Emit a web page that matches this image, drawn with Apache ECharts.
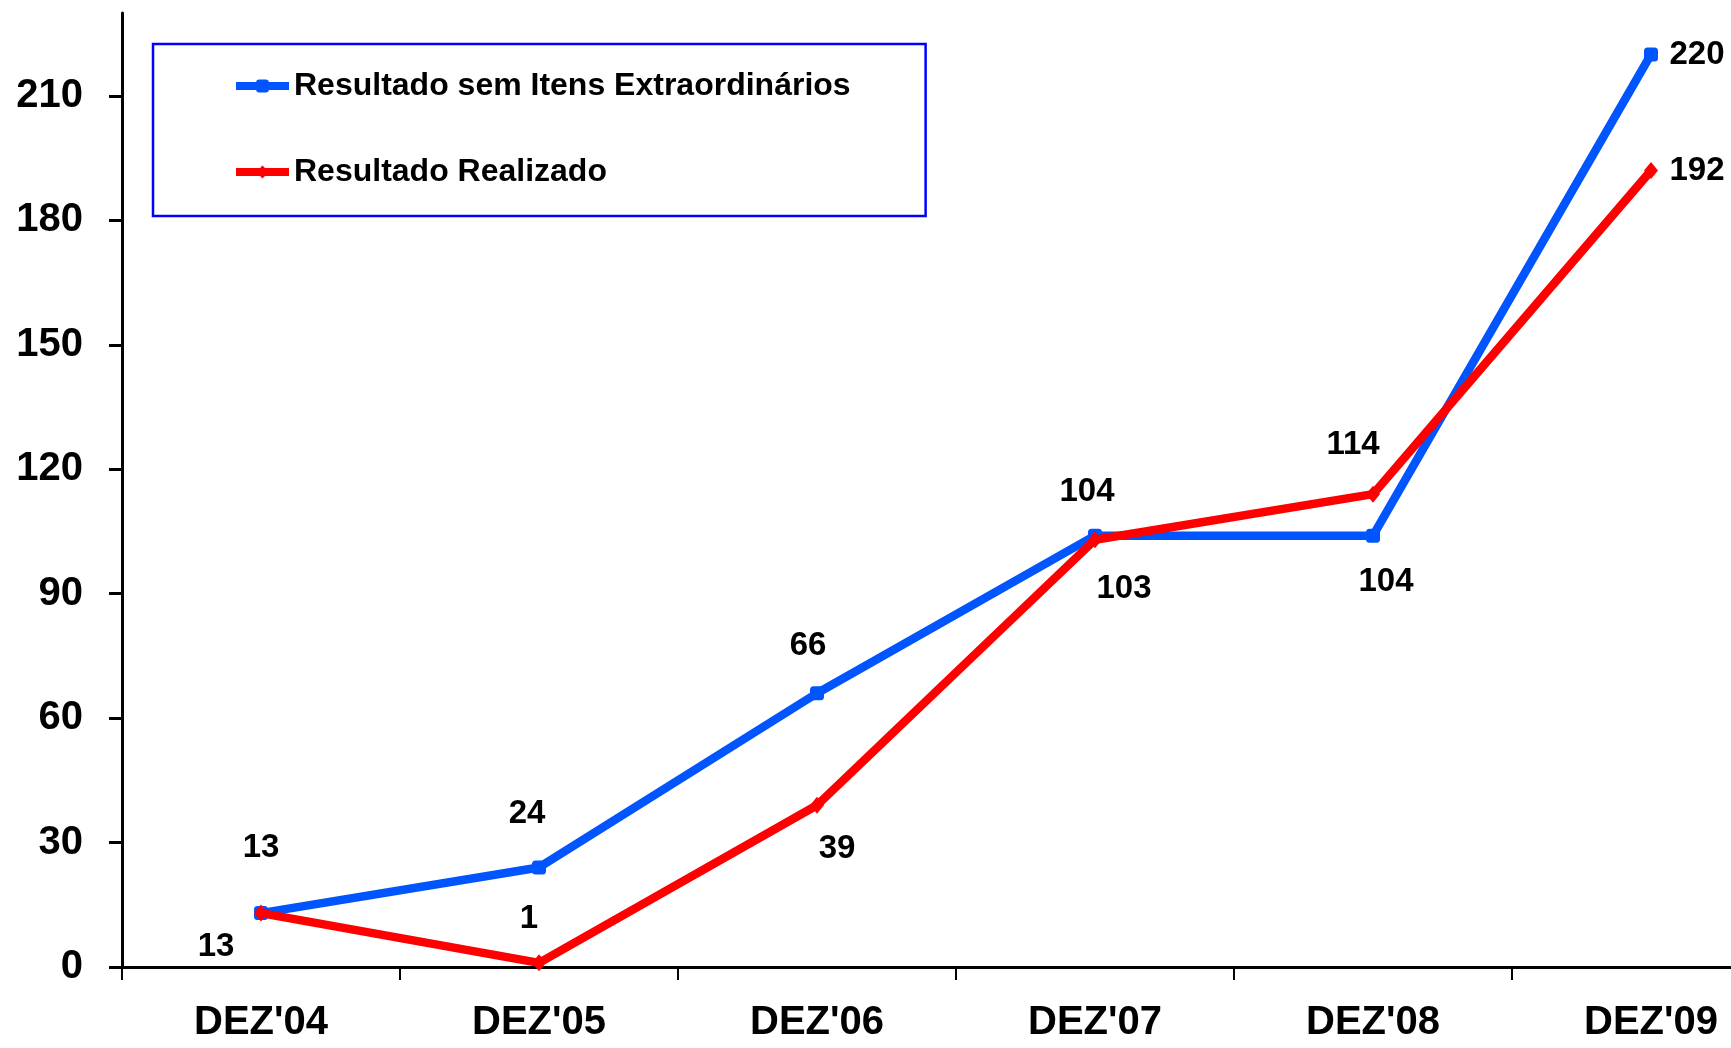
<!DOCTYPE html>
<html><head><meta charset="utf-8">
<script src="https://cdn.jsdelivr.net/npm/echarts@6/dist/echarts.min.js"></script>
<style>html,body{margin:0;padding:0;background:#fff}#c{width:1731px;height:1048px}</style>
</head><body><div id="c"></div>
<script>
const categories = ["DEZ'04", "DEZ'05", "DEZ'06", "DEZ'07", "DEZ'08", "DEZ'09"];
const seriesNames = ["Resultado sem Itens Extraordinários", "Resultado Realizado"];
const semItens = [13, 24, 66, 104, 104, 220];
const realizado = [13, 1, 39, 103, 114, 192];
const yTicks = [0, 30, 60, 90, 120, 150, 180, 210];

// label placement (style, not data)
const blueOff = [[0,-65],[-12,-54],[-9,-47],[-8,-44],[13,46],[46,0]];
const redOff = [[-45,34],[-10,-44],[20,44],[29,49],[-20,-49],[46,0]];

const SANS = "'Liberation Sans', Arial, sans-serif";

function withLabels(vals, offs) {
  return vals.map((v, i) => ({
    value: v,
    label: { position: 'inside', offset: offs[i] }
  }));
}

const chart = echarts.init(document.getElementById('c'), null, { renderer: 'canvas' });
chart.setOption({
  animation: false,
  backgroundColor: '#fff',
  grid: { left: 122, width: 1668, top: 13, bottom: 81, outerBoundsMode: 'none', containLabel: false },
  legend: {
    orient: 'vertical', left: 153, top: 44,
    padding: [26, 75, 28, 79], itemGap: 54,
    itemWidth: 53, itemHeight: 16,
    borderColor: '#0000FF', borderWidth: 2.5,
    lineStyle: { width: 8 },
    textStyle: { fontFamily: SANS, fontWeight: 'bold', fontSize: 32, color: '#000', width: 556 },
    data: seriesNames
  },
  xAxis: {
    type: 'category', data: categories, boundaryGap: true,
    axisLine: { lineStyle: { color: '#000', width: 3 } },
    axisTick: { show: true, length: 13, lineStyle: { color: '#000', width: 2 } },
    axisLabel: { margin: 36, fontFamily: SANS, fontWeight: 'bold', fontSize: 40, color: '#000' },
    splitLine: { show: false }
  },
  yAxis: {
    type: 'value', min: 0, max: 230,
    axisLine: { show: true, lineStyle: { color: '#000', width: 3 } },
    axisTick: { show: true, length: 13, customValues: yTicks, lineStyle: { color: '#000', width: 3 } },
    axisLabel: { margin: 39, customValues: yTicks, fontFamily: SANS, fontWeight: 'bold', fontSize: 40, color: '#000' },
    splitLine: { show: false }
  },
  series: [
    {
      name: seriesNames[0], type: 'line', data: withLabels(semItens, blueOff),
      color: '#0055FF', lineStyle: { width: 8.5, color: '#0055FF' },
      symbol: 'roundRect', symbolSize: 14, itemStyle: { color: '#0055FF' },
      label: { show: true, fontFamily: SANS, fontWeight: 'bold', fontSize: 33, color: '#000' },
      z: 2
    },
    {
      name: seriesNames[1], type: 'line', data: withLabels(realizado, redOff),
      color: '#FF0000', lineStyle: { width: 8.5, color: '#FF0000' },
      symbol: 'diamond', symbolSize: [14, 17], itemStyle: { color: '#FF0000' },
      label: { show: true, fontFamily: SANS, fontWeight: 'bold', fontSize: 33, color: '#000' },
      z: 3
    }
  ]
});
</script></body></html>
